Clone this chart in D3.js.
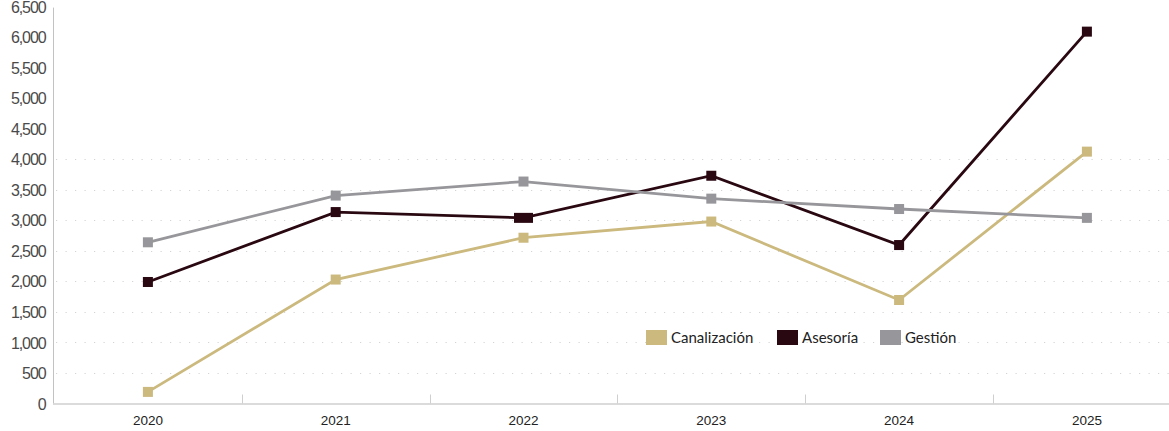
<!DOCTYPE html>
<html>
<head>
<meta charset="utf-8">
<script src="https://cdn.jsdelivr.net/npm/d3@7"></script>
<style>
  html, body { margin: 0; padding: 0; background: #fff; }
  svg { display: block; font-family: Lato, "Open Sans", sans-serif; }
</style>
</head>
<body>
<svg id="chart" width="1169" height="431"></svg>
<script>
const years = ["2020", "2021", "2022", "2023", "2024", "2025"];
const canalizacion = [190, 2030, 2715, 2980, 1695, 4125];
const asesoria = [1990, 3135, 3040, 3730, 2595, 6090];
const gestion = [2640, 3405, 3635, 3355, 3185, 3040];
const yTicks = [0, 500, 1000, 1500, 2000, 2500, 3000, 3500, 4000, 4500, 5000, 5500, 6000, 6500];
const gridTicks = [500, 1000, 1500, 2000, 2500, 3000, 3500, 4000];
const seriesNames = ["Canalización", "Asesoría", "Gestión"];
const seriesColors = ["#CBB97E", "#2A0812", "#97979B"];
const seriesData = [canalizacion, asesoria, gestion];

(function () {
const svg = d3.select("#chart");
const mLeft = 54, mBottom = 403.5, mTop = 6.6;
const step = 187.8;

const x = d3.scaleBand().domain(years).range([mLeft, mLeft + step * years.length]).padding(0);
const y = d3.scaleLinear().domain([0, 6500]).range([mBottom, mTop]);
const cx = d => x(d) + x.bandwidth() / 2;

// gridlines
svg.append("g").selectAll("line").data(gridTicks).join("line")
  .attr("x1", mLeft + 2).attr("x2", 1169)
  .attr("y1", d => Math.round(y(d)) + 0.5).attr("y2", d => Math.round(y(d)) + 0.5)
  .attr("stroke", "#d4d4d4").attr("stroke-width", 1)
  .attr("stroke-dasharray", "1.2 8.3");

// y axis
const yAxis = svg.append("g").attr("transform", `translate(${mLeft - 0.5},0)`)
  .call(d3.axisLeft(y).tickValues(yTicks).tickFormat(d3.format(",")).tickSize(0).tickPadding(8));
yAxis.select(".domain").attr("stroke", "#c2c2c2").attr("d", `M0,${mTop + 1}V${mBottom}`);
yAxis.selectAll("text").attr("fill", "#4a4a4a").style("font-size", "16px")
  .style("letter-spacing", "-1.1px").attr("dy", "0.35em");

// x axis
const xAxis = svg.append("g").attr("transform", `translate(0,${mBottom + 0.5})`)
  .call(d3.axisBottom(x).tickSize(0).tickPadding(10));
xAxis.select(".domain").attr("stroke", "#cfcfcf").attr("stroke-width", 1.5)
  .attr("d", `M${mLeft - 1},0H1169`);
xAxis.selectAll("text").attr("fill", "#222").style("font-size", "13.5px").attr("dy", "0.85em");
// category boundary ticks
svg.append("g").selectAll("line").data(years.slice(1)).join("line")
  .attr("x1", d => Math.round(x(d)) + 0.5).attr("x2", d => Math.round(x(d)) + 0.5)
  .attr("y1", mBottom - 9).attr("y2", mBottom)
  .attr("stroke", "#cfcfcf").attr("stroke-width", 1);

// lines
const line = d3.line().x((d, i) => cx(years[i])).y(d => y(d));
seriesData.forEach((vals, s) => {
  svg.append("path").datum(vals)
    .attr("d", line).attr("fill", "none")
    .attr("stroke", seriesColors[s]).attr("stroke-width", 2.8)
    .attr("stroke-linejoin", "miter");
});
seriesData.forEach((vals, s) => {
  svg.append("g").selectAll("rect").data(vals).join("rect")
    .attr("x", (d, i) => cx(years[i]) - ((s === 1 && i === 2) ? 9.5 : 5))
    .attr("y", d => y(d) - 5)
    .attr("width", (d, i) => (s === 1 && i === 2) ? 19 : 10)
    .attr("height", 10)
    .attr("fill", seriesColors[s]);
});

// legend
const legendX = [646, 777, 880];
const lg = svg.append("g").selectAll("g").data(seriesNames).join("g")
  .attr("transform", (d, i) => `translate(${legendX[i]},330)`);
lg.append("rect").attr("width", 21).attr("height", 15).attr("fill", (d, i) => seriesColors[i]);
lg.append("text").attr("x", 25).attr("y", 7.5).attr("dy", "0.35em")
  .attr("fill", "#222").style("font-size", "15px").text(d => d);
})();
</script>
</body>
</html>
